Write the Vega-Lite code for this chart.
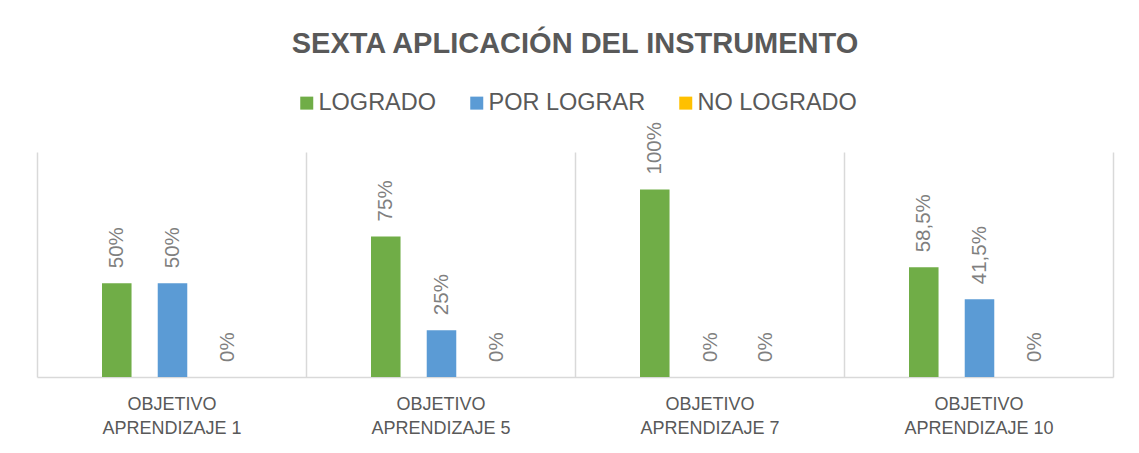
{
  "$schema": "https://vega.github.io/schema/vega-lite/v6.json",
  "width": 1076,
  "height": 225,
  "autosize": {"type": "none"},
  "padding": {"left": 37, "top": 152, "right": 26, "bottom": 76},
  "background": "white",
  "title": {
    "text": "SEXTA APLICACIÓN DEL INSTRUMENTO",
    "anchor": "middle",
    "font": "Liberation Sans",
    "fontSize": 29,
    "fontWeight": "bold",
    "color": "#595959",
    "baseline": "alphabetic",
    "offset": 9
  },
  "config": {
    "locale": {"number": {"decimal": ",", "thousands": ".", "grouping": [3], "currency": ["", " €"]}},
    "view": {"stroke": null}
  },
  "data": {
    "values": [
      {"objetivo": "OBJETIVO APRENDIZAJE 1", "nivel": "LOGRADO", "valor": 0.5},
      {"objetivo": "OBJETIVO APRENDIZAJE 1", "nivel": "POR LOGRAR", "valor": 0.5},
      {"objetivo": "OBJETIVO APRENDIZAJE 1", "nivel": "NO LOGRADO", "valor": 0},
      {"objetivo": "OBJETIVO APRENDIZAJE 5", "nivel": "LOGRADO", "valor": 0.75},
      {"objetivo": "OBJETIVO APRENDIZAJE 5", "nivel": "POR LOGRAR", "valor": 0.25},
      {"objetivo": "OBJETIVO APRENDIZAJE 5", "nivel": "NO LOGRADO", "valor": 0},
      {"objetivo": "OBJETIVO APRENDIZAJE 7", "nivel": "LOGRADO", "valor": 1},
      {"objetivo": "OBJETIVO APRENDIZAJE 7", "nivel": "POR LOGRAR", "valor": 0},
      {"objetivo": "OBJETIVO APRENDIZAJE 7", "nivel": "NO LOGRADO", "valor": 0},
      {"objetivo": "OBJETIVO APRENDIZAJE 10", "nivel": "LOGRADO", "valor": 0.585},
      {"objetivo": "OBJETIVO APRENDIZAJE 10", "nivel": "POR LOGRAR", "valor": 0.415},
      {"objetivo": "OBJETIVO APRENDIZAJE 10", "nivel": "NO LOGRADO", "valor": 0}
    ]
  },
  "encoding": {
    "x": {
      "field": "objetivo",
      "type": "nominal",
      "sort": null,
      "scale": {"paddingInner": 0, "paddingOuter": 0},
      "axis": {
        "title": null,
        "labelAngle": 0,
        "labelExpr": "datum.label ? ['OBJETIVO', replace(datum.label, 'OBJETIVO ', '')] : ''",
        "labelFont": "Liberation Sans",
        "labelFontSize": 18,
        "labelColor": "#595959",
        "labelLineHeight": 24,
        "labelPadding": 18,
        "labelLimit": 0,
        "domainColor": "#d9d9d9",
        "domainWidth": 1.5,
        "ticks": false,
        "grid": true,
        "gridColor": "#d9d9d9",
        "gridWidth": 1.5,
        "tickBand": "extent",
        "encoding": {"labels": {"letterSpacing": {"value": 4}}}
      }
    },
    "xOffset": {
      "field": "nivel",
      "type": "nominal",
      "sort": ["LOGRADO", "POR LOGRAR", "NO LOGRADO"],
      "scale": {"domain": ["LOGRADO", "POR LOGRAR", "NO LOGRADO"], "range": [65, 206], "paddingInner": 0.47, "paddingOuter": 0}
    },
    "y": {
      "field": "valor",
      "type": "quantitative",
      "scale": {"domain": [0, 1.2], "nice": false},
      "axis": null
    }
  },
  "layer": [
    {
      "mark": {"type": "bar"},
      "encoding": {
        "color": {
          "field": "nivel",
          "type": "nominal",
          "sort": ["LOGRADO", "POR LOGRAR", "NO LOGRADO"],
          "scale": {"domain": ["LOGRADO", "POR LOGRAR", "NO LOGRADO"], "range": ["#70AD47", "#5B9BD5", "#FFC000"]},
          "legend": {
            "title": null,
            "orient": "none",
            "direction": "horizontal",
            "legendX": 258,
            "legendY": -61,
            "symbolType": "square",
            "symbolSize": 169,
            "symbolStrokeWidth": 0,
            "labelFont": "Liberation Sans",
            "labelFontSize": 23.5,
            "labelColor": "#595959",
            "labelOffset": 0,
            "columnPadding": 28,
            "labelLimit": 0
          }
        }
      }
    },
    {
      "mark": {
        "type": "text",
        "angle": 270,
        "align": "left",
        "baseline": "middle",
        "dx": 15,
        "font": "Liberation Sans",
        "fontSize": 20.5,
        "color": "#7f7f7f"
      },
      "encoding": {
        "text": {"field": "valor", "type": "quantitative", "format": ".1~%"}
      }
    }
  ]
}
